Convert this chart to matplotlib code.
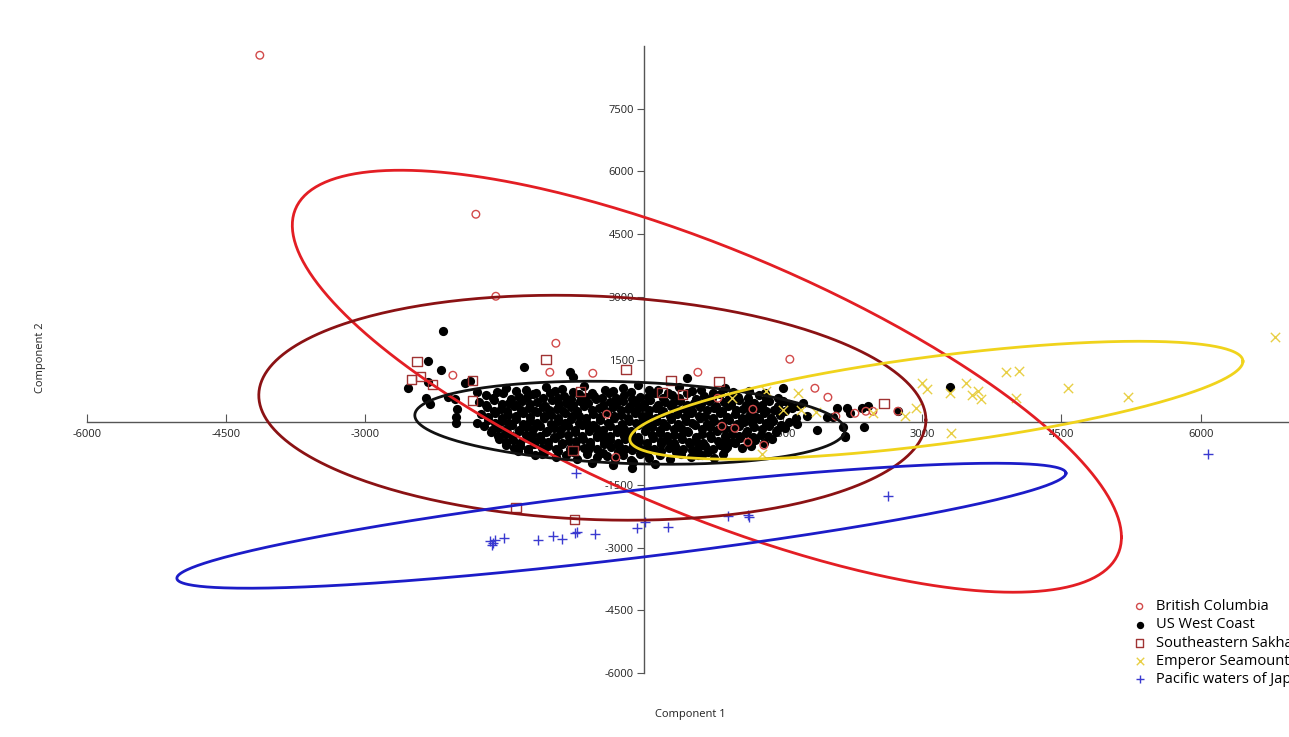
import numpy as np
import matplotlib
matplotlib.use("Agg")
import matplotlib.pyplot as plt

plt.rcParams['font.family'] = ['Open Sans', 'DejaVu Sans']

# British Columbia (open red circles)
bc_x = [-4138, -1810, -1595, -948, -2058, -1013, -550, 582, 1573, 1843, 1983, 1175,
        841, 1293, 1121, -399, -302, 797, 2069, 2274, 2392, 2468, 2737, 981]
bc_y = [8780, 4976, 3014, 1890, 1124, 1196, 1172, 1196, 1507, 813, 598, 311,
        -96, -550, -478, 191, -837, 574, 144, 215, 263, 263, 263, -144]

# US West Coast (black dots)
us_pts = [
    (-2166, 2177), (-2328, 1459), (-2188, 1244), (-2543, 813), (-2328, 957), (-2349, 574),
    (-2306, 431), (-2112, 598), (-2037, 550), (-2015, 311), (-2026, 120), (-2026, -24),
    (-1929, 933), (-1875, 981), (-1800, 718), (-1800, -24), (-1293, 1316), (-797, 1196),
    (-765, 1077), (463, 1053), (1498, 813), (2371, -120), (2166, -335), (2144, -120),
    (582, -789), (-129, -1100), (-1175, -789), (-1358, -694), (1713, 455), (1756, 144),
    (1864, -191), (1972, 120), (2080, 335), (2188, 335), (2349, 335), (2414, 383),
    (2166, -359), (2037, 120), (2220, 215), (3297, 837), (2737, 263),
    (-1480, 820), (-1270, 760), (-1050, 850), (-880, 790), (-640, 870), (-420, 770),
    (-230, 830), (-60, 900), (150, 780), (380, 840), (620, 760), (870, 820), (1130, 740),
    (-1580, 720), (-1380, 740), (-1160, 710), (-960, 750), (-760, 730), (-560, 700),
    (-330, 740), (-140, 720), (60, 760), (260, 710), (520, 740), (740, 700), (960, 730),
    (1300, 700),
    (-1700, 640), (-1520, 690), (-1340, 610), (-1190, 670), (-1010, 700), (-860, 620),
    (-700, 680), (-540, 630), (-380, 700), (-210, 650), (-40, 610), (120, 690), (300, 640),
    (470, 700), (650, 620), (820, 670), (1010, 600), (1240, 650), (1450, 590),
    (-1630, 580), (-1430, 560), (-1260, 600), (-1090, 570), (-930, 590), (-780, 550),
    (-620, 600), (-450, 570), (-300, 590), (-130, 560), (40, 600), (210, 570), (380, 590),
    (560, 560), (730, 590), (920, 570), (1120, 580), (1320, 560), (1500, 520),
    (-1780, 480), (-1620, 530), (-1450, 470), (-1310, 520), (-1150, 490), (-990, 540),
    (-840, 470), (-690, 510), (-520, 550), (-370, 480), (-230, 520), (-80, 470), (70, 540),
    (230, 490), (390, 520), (540, 460), (700, 510), (860, 480), (1020, 530), (1190, 460),
    (1350, 500), (1560, 440),
    (-1700, 420), (-1530, 440), (-1380, 410), (-1230, 430), (-1070, 400), (-910, 440),
    (-760, 420), (-600, 450), (-440, 410), (-300, 440), (-150, 400), (0, 430), (150, 410),
    (310, 450), (470, 410), (620, 430), (780, 400), (940, 440), (1100, 410), (1270, 420),
    (1450, 390), (1650, 400),
    (-1690, 360), (-1540, 320), (-1400, 380), (-1240, 330), (-1090, 370), (-940, 310),
    (-790, 360), (-640, 390), (-480, 330), (-330, 370), (-170, 310), (-20, 360), (130, 330),
    (290, 380), (440, 320), (600, 360), (760, 340), (910, 390), (1070, 320), (1230, 350),
    (1400, 300), (1600, 330),
    (-1620, 280), (-1470, 260), (-1320, 290), (-1170, 270), (-1020, 300), (-870, 260),
    (-720, 280), (-560, 300), (-410, 260), (-250, 290), (-90, 260), (60, 300), (210, 270),
    (370, 290), (520, 260), (680, 290), (840, 260), (990, 300), (1150, 270), (1320, 280),
    (1520, 260),
    (-1750, 190), (-1600, 230), (-1460, 170), (-1300, 210), (-1150, 240), (-1000, 180),
    (-850, 220), (-700, 160), (-550, 200), (-400, 240), (-250, 180), (-100, 220), (50, 170),
    (200, 230), (360, 190), (510, 210), (660, 160), (820, 230), (980, 190), (1130, 150),
    (1290, 210), (1470, 180),
    (-1680, 130), (-1530, 110), (-1380, 140), (-1230, 120), (-1080, 150), (-920, 110),
    (-770, 140), (-620, 100), (-470, 130), (-320, 150), (-170, 110), (-20, 140), (130, 100),
    (280, 150), (440, 120), (590, 140), (740, 100), (900, 130), (1060, 110), (1210, 130),
    (1370, 110), (1640, 90),
    (-1680, 60), (-1530, 20), (-1380, 80), (-1230, 40), (-1080, 90), (-930, 30), (-780, 70),
    (-620, 10), (-470, 60), (-320, 100), (-160, 30), (-10, 80), (140, 20), (290, 70),
    (450, 40), (600, 90), (760, 20), (920, 60), (1080, 10), (1240, 70), (1390, 40), (1560, 0),
    (-1600, -30), (-1450, -10), (-1300, -40), (-1150, -20), (-1000, -50), (-850, -10),
    (-700, -30), (-550, -60), (-390, -20), (-240, -40), (-90, -10), (60, -50), (210, -20),
    (370, -40), (520, -10), (680, -50), (840, -20), (1000, -40), (1160, -10), (1320, -30),
    (1480, -60), (1650, -50),
    (-1720, -90), (-1570, -130), (-1420, -70), (-1270, -120), (-1120, -80), (-970, -140),
    (-820, -90), (-670, -60), (-520, -130), (-360, -100), (-210, -150), (-60, -70),
    (90, -120), (240, -90), (400, -140), (550, -60), (710, -110), (870, -150), (1030, -80),
    (1190, -120), (1350, -90), (1520, -140),
    (-1640, -180), (-1490, -160), (-1340, -190), (-1190, -170), (-1040, -200), (-890, -160),
    (-740, -180), (-590, -150), (-440, -190), (-290, -170), (-140, -200), (20, -160),
    (170, -190), (320, -170), (470, -200), (630, -160), (790, -190), (950, -170),
    (1110, -200), (1270, -160), (1440, -190),
    (-1650, -240), (-1500, -280), (-1350, -220), (-1200, -270), (-1050, -230), (-900, -290),
    (-740, -240), (-590, -200), (-440, -270), (-290, -230), (-140, -290), (10, -220),
    (170, -260), (320, -300), (480, -230), (630, -270), (790, -210), (950, -280),
    (1100, -250), (1260, -300), (1420, -240),
    (-1570, -320), (-1420, -340), (-1270, -310), (-1120, -330), (-970, -350), (-820, -310),
    (-670, -330), (-510, -300), (-360, -340), (-210, -320), (-60, -350), (90, -310),
    (250, -340), (400, -320), (560, -350), (710, -310), (870, -340), (1020, -320),
    (1180, -350), (1340, -320),
    (-1560, -390), (-1410, -430), (-1260, -370), (-1110, -420), (-960, -380), (-810, -440),
    (-660, -400), (-510, -360), (-360, -430), (-200, -390), (-50, -450), (100, -370),
    (250, -420), (410, -390), (560, -440), (720, -380), (880, -420), (1040, -370),
    (1200, -430), (1380, -400),
    (-1480, -470), (-1330, -490), (-1180, -460), (-1030, -480), (-880, -500), (-730, -460),
    (-580, -480), (-430, -450), (-280, -490), (-120, -470), (30, -500), (180, -460),
    (330, -490), (490, -470), (640, -500), (800, -460), (960, -480), (1120, -470),
    (1290, -490),
    (-1480, -540), (-1330, -580), (-1180, -520), (-1030, -570), (-880, -530), (-730, -590),
    (-580, -540), (-430, -510), (-270, -580), (-120, -540), (30, -600), (190, -530),
    (340, -570), (500, -520), (660, -580), (820, -540), (980, -500), (1150, -560),
    (-1400, -620), (-1250, -640), (-1100, -610), (-950, -630), (-800, -650), (-650, -610),
    (-500, -630), (-350, -600), (-200, -640), (-50, -620), (110, -650), (270, -610),
    (420, -640), (580, -620), (740, -650), (900, -600), (1060, -620),
    (-1250, -690), (-1080, -730), (-920, -680), (-760, -720), (-600, -670), (-440, -740),
    (-280, -700), (-130, -660), (30, -730), (190, -690), (350, -720), (520, -670),
    (690, -700), (870, -650),
    (-1100, -770), (-840, -790), (-610, -760), (-400, -800), (-220, -780), (-40, -760),
    (170, -790), (400, -770), (630, -780), (850, -760),
    (-950, -840), (-720, -880), (-500, -830), (-310, -870), (-140, -900), (60, -850),
    (280, -880), (510, -830), (760, -860),
    (-560, -980), (-330, -1020), (-120, -960), (120, -1000),
]
us_x = [p[0] for p in us_pts]
us_y = [p[1] for p in us_pts]

# Southeastern Sakhalin (open squares)
sk_x = [-2446, -2500, -2403, -2274, -1843, -1843, -1056, -679, -194, 194, 291, 808,
        420, -765, 2586, -1379, -744]
sk_y = [1459, 1029, 1100, 909, 1005, 526, 1507, 742, 1268, 718, 1005, 981,
        670, -670, 455, -2033, -2321]

# Emperor Seamounts (yellow x)
em_x = [6800, 2996, 3050, 3297, 3470, 3534, 3599, 3631, 3901, 4041, 4009, 4569, 5216,
        3308, 2931, 2813, 2468, 1659, 1315, 948, 1692, 1272, 1498, 1853]
em_y = [2033, 933, 789, 694, 933, 646, 742, 550, 1196, 1220, 574, 813, 598,
        -263, 335, 144, 215, 694, 742, 574, 287, -766, 287, 239]

# Pacific waters of Japan (blue +)
jp_x = [-733, -1627, -1606, -1638, -1659, -1509, -1142, -981, -884, -744, -722, -528,
        -75, 11, 259, 905, 1121, 1131, 2629, 6078]
jp_y = [-1220, -2895, -2823, -2943, -2847, -2775, -2823, -2727, -2799, -2656, -2632, -2679,
        -2536, -2392, -2512, -2249, -2225, -2273, -1770, -766]

# confidence ellipses: centre, half extent in x and y, correlation
ell_cx = [679, -151, -555, 3152, -242]
ell_cy = [981, -12, 347, 526, -2476]
ell_sx = [4467, 2317, 3594, 3303, 4790]
ell_sy = [5048, 993, 2691, 1411, 1495]
ell_rho = [-0.739, -0.18, -0.11, 0.66, 0.84]
ell_colors = ['#e31e24', '#111111', '#8b1214', '#f0d31c', '#1c1cc8']

fig = plt.figure(figsize=(12.89, 7.37), dpi=100)
ax = fig.add_axes([0.0675, 0.0868, 0.936, 0.8507])

ax.scatter(us_x, us_y, s=44, c='black', marker='o', linewidths=0, zorder=3, label='US West Coast')
ax.scatter(bc_x, bc_y, s=30, facecolors='none', edgecolors='#d24a4a', marker='o', linewidths=1, zorder=4, label='British Columbia')
ax.scatter(sk_x, sk_y, s=45, facecolors='none', edgecolors='#a03333', marker='s', linewidths=1, zorder=4, label='Southeastern Sakhalin')
ax.scatter(em_x, em_y, s=45, c='#e8cf45', marker='x', linewidths=1, zorder=4, label='Emperor Seamounts')
ax.scatter(jp_x, jp_y, s=50, c='#3a3ad0', marker='+', linewidths=1, zorder=4, label='Pacific waters of Japan')

t = np.linspace(0, 2 * np.pi, 400)
for cx, cy, sx, sy, r, col in zip(ell_cx, ell_cy, ell_sx, ell_sy, ell_rho, ell_colors):
    ex = cx + sx * np.cos(t)
    ey = cy + sy * (r * np.cos(t) + np.sqrt(1 - r * r) * np.sin(t))
    ax.plot(ex, ey, color=col, lw=2, zorder=5)

ax.set_xlim(-6000, 7000)
ax.set_ylim(-6000, 9000)

ax.spines['left'].set_position(('data', 0))
ax.spines['bottom'].set_position(('data', 0))
ax.spines['top'].set_visible(False)
ax.spines['right'].set_visible(False)
for s in ['left', 'bottom']:
    ax.spines[s].set_color('#555555')
    ax.spines[s].set_linewidth(1)

xt = [-6000, -4500, -3000, -1500, 1500, 3000, 4500, 6000]
yt = [-6000, -4500, -3000, -1500, 1500, 3000, 4500, 6000, 7500]
ax.set_xticks(xt)
ax.set_yticks(yt)
ax.set_xticklabels([str(v) for v in xt])
ax.set_yticklabels([str(v) for v in yt])
ax.tick_params(axis='x', direction='in', length=6, color='#555555', labelsize=8, labelcolor='#222222', pad=5)
ax.tick_params(axis='y', direction='out', length=5, color='#555555', labelsize=8, labelcolor='#222222', pad=2)

fig.text(690 / 1289, 1 - 715 / 737, 'Component 1', ha='center', va='center', fontsize=8, color='#222222')
fig.text(40 / 1289, 1 - 358 / 737, 'Component 2', ha='center', va='center', rotation=90, fontsize=8, color='#222222')

# legend runs off the right edge like in the original export
h, l = ax.get_legend_handles_labels()
order = [1, 0, 2, 3, 4]
ax.legend([h[i] for i in order], [l[i] for i in order], loc='upper left',
          bbox_to_anchor=(1125 / 1289, 1 - 592 / 737), bbox_transform=fig.transFigure,
          frameon=False, fontsize=10.5, handlelength=1, handletextpad=0.6, labelspacing=0.22,
          borderpad=0, markerscale=0.8)

fig.savefig('out.png', dpi=100)
